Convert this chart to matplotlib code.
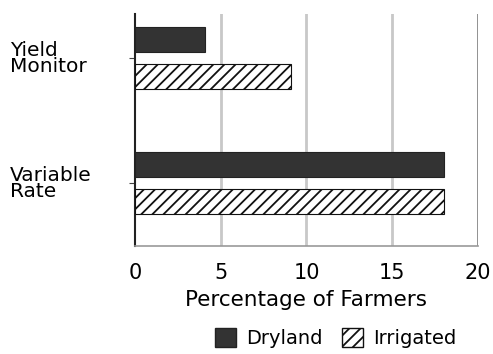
import matplotlib
matplotlib.use("Agg")
import matplotlib.pyplot as plt
from matplotlib.patches import Patch

# data
categories = ["Yield\nMonitor", "Variable\nRate"]
dryland = [4.1, 18.0]
irrigated = [9.1, 18.0]
xticks = [0, 5, 10, 15, 20]

plt.rcParams["font.family"] = ["DejaVu Sans"]
plt.rcParams["hatch.linewidth"] = 1.3

fig = plt.figure(figsize=(4.93, 3.54), dpi=100)
ax = fig.add_axes([0.2738, 0.3051, 0.6958, 0.6554])

pos = list(range(len(categories)))
h = 0.2
off = 0.15
ax.barh([p - off for p in pos], dryland, height=h, color="#333333",
        edgecolor="#222222", linewidth=0.8, zorder=3)
ax.barh([p + off for p in pos], irrigated, height=h, color="white",
        edgecolor="#111111", hatch="///", linewidth=0.8, zorder=3)

ax.set_xlim(0, 20)
ax.set_ylim(1.504, -0.352)
ax.set_xticks(xticks)
ax.set_xticklabels([str(t) for t in xticks], fontsize=15)
ax.tick_params(axis="x", length=0, pad=12)
ax.set_yticks(pos)
ax.set_yticklabels(categories, fontsize=14.5, ha="left", linespacing=0.8)
ax.tick_params(axis="y", length=4, width=0.8, pad=86, color="#444444")

for x in xticks[1:-1]:
    ax.axvline(x, color="#c8c8c8", linewidth=2, zorder=1)
ax.axvline(20, color="#888888", linewidth=2, zorder=1)

for s in ["top", "right"]:
    ax.spines[s].set_visible(False)
ax.spines["left"].set_linewidth(1.5)
ax.spines["left"].set_color("#222222")
ax.spines["bottom"].set_color("#999999")
ax.spines["bottom"].set_linewidth(1.2)

ax.set_xlabel("Percentage of Farmers", fontsize=15.5, labelpad=5)

handles = [Patch(facecolor="#333333", edgecolor="#222222", label="Dryland"),
           Patch(facecolor="white", edgecolor="#111111", hatch="///", label="Irrigated")]
fig.legend(handles=handles, loc="center", bbox_to_anchor=(0.68, 0.045), ncol=2,
           frameon=False, fontsize=14, handlelength=1.1, handleheight=1.1,
           handletextpad=0.5, columnspacing=1.0)

fig.savefig("out.png", dpi=100)
